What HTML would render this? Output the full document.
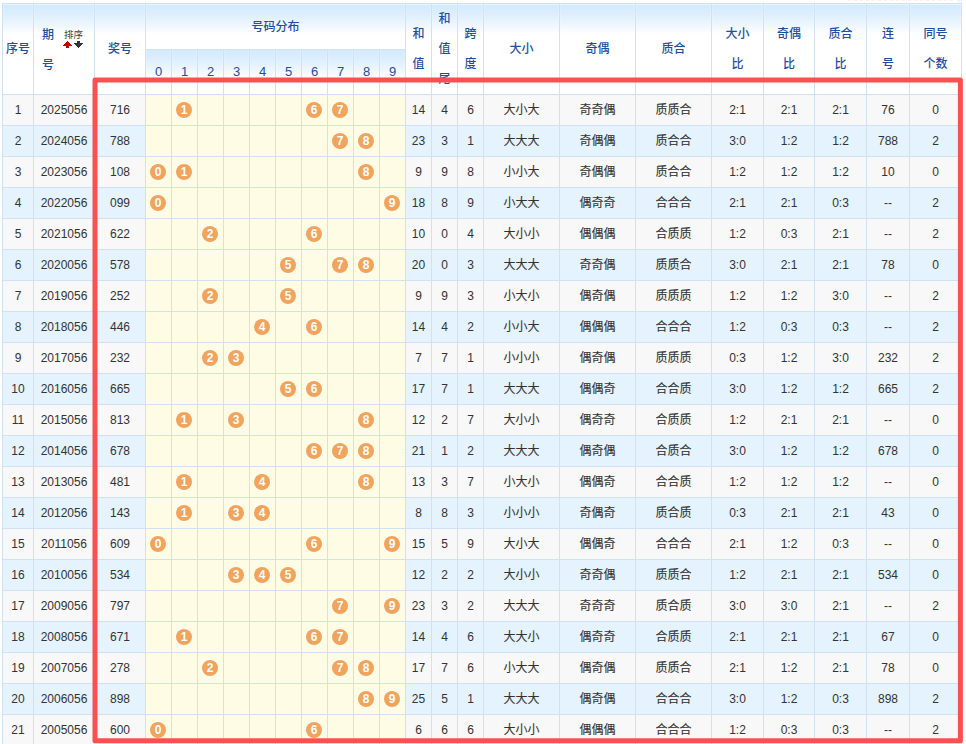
<!DOCTYPE html>
<html lang="zh-CN"><head><meta charset="utf-8"><title>3D 历史同期</title>
<style>
html,body{margin:0;padding:0;background:#fff;}
body{width:966px;height:744px;overflow:hidden;position:relative;font-family:"Liberation Sans","Noto Sans CJK SC",sans-serif;font-size:12px;color:#333;}
.tb{position:absolute;left:2px;top:3px;border-collapse:collapse;table-layout:auto;width:960px;}
.tb th,.tb td{border:1px solid #d0e1f3;padding:0;text-align:center;vertical-align:middle;overflow:visible;white-space:nowrap;}
.tb th{font-weight:500;color:#1e4fa4;line-height:30px;background:#fff linear-gradient(#e8f4fe 0,#e8f4fe 1px,#d3eafd 1px,#d9edfd 8px,#ecf6fe 20px,#ffffff 30px) no-repeat;background-size:100% 30px;}
.tb tr.h1 th{height:45px;}
.tb tr.h2 th{height:43px;font-weight:normal;font-size:13px;line-height:16px;padding-bottom:1px;}
.tb td{height:30px;line-height:30px;}
.tb tr.o td{background:#f8f8f8;}
.tb tr.e td{background:#e4f3fe;}
.tb tr td.d{background:#fffce6;vertical-align:top;}
.tb td.d i{display:block;width:16px;height:16px;margin:7px 0 0 4px;border-radius:50%;background:#f2a35c;color:#fff;font-style:normal;font-weight:bold;font-size:12px;line-height:16px;}
.q{position:absolute;font-weight:500;color:#1e4fa4;line-height:16px;font-size:12px;font-family:"Liberation Sans","Noto Sans CJK SC",sans-serif;}
.q1{left:42px;top:27px;}
.q2{left:42px;top:57px;}
.px{position:absolute;left:64px;top:29px;font-size:9.5px;color:#444;line-height:12px;font-family:"Liberation Sans","Noto Sans CJK SC",sans-serif;}
.arr{position:absolute;left:60px;top:40px;}
.red{position:absolute;left:0;top:0;}
.topline{position:absolute;left:848px;top:0;width:108px;height:1px;background:repeating-linear-gradient(90deg,#fdf0ec 0,#fdf0ec 3px,#fff 3px,#fff 6px);}
.topbox{position:absolute;left:957px;top:0;width:5px;height:3px;background:linear-gradient(#eef4fc,#f8fbfe);}
.tb td.c{-webkit-text-stroke:0.1px #333;}
.tb tr.h2 th{background:#fff linear-gradient(#d4eafd 0,#d9edfd 7px,#ecf6fe 19px,#ffffff 29px) no-repeat;background-size:100% 30px;}
.tb th{box-shadow:inset 1px 0 0 rgba(255,255,255,.15),inset -1px 0 0 rgba(255,255,255,.15);}
.tb td.d i{box-shadow:0 0 0 1px rgba(255,255,255,.55);}

</style></head><body>
<div class="topline"></div><div class="topbox"></div>
<table class="tb">
<colgroup><col style="width:31px"><col style="width:61px"><col style="width:51px"><col style="width:26px"><col style="width:26px"><col style="width:26px"><col style="width:26px"><col style="width:26px"><col style="width:26px"><col style="width:26px"><col style="width:26px"><col style="width:26px"><col style="width:26px"><col style="width:26px"><col style="width:26px"><col style="width:26px"><col style="width:76px"><col style="width:76px"><col style="width:76px"><col style="width:52px"><col style="width:51px"><col style="width:52px"><col style="width:43px"><col></colgroup>
<thead>
<tr class="h1"><th rowspan="2">序号</th><th rowspan="2" class="qh"></th><th rowspan="2">奖号</th><th colspan="10" class="hm">号码分布</th><th rowspan="2">和<br>值</th><th rowspan="2" class="t3">和<br>值<br>尾</th><th rowspan="2">跨<br>度</th><th rowspan="2">大小</th><th rowspan="2">奇偶</th><th rowspan="2">质合</th><th rowspan="2">大小<br>比</th><th rowspan="2">奇偶<br>比</th><th rowspan="2">质合<br>比</th><th rowspan="2">连<br>号</th><th rowspan="2">同号<br>个数</th></tr>
<tr class="h2"><th>0</th><th>1</th><th>2</th><th>3</th><th>4</th><th>5</th><th>6</th><th>7</th><th>8</th><th>9</th></tr>
</thead>
<tbody>
<tr class="o"><td>1</td><td>2025056</td><td>716</td><td class="d"></td><td class="d"><i>1</i></td><td class="d"></td><td class="d"></td><td class="d"></td><td class="d"></td><td class="d"><i>6</i></td><td class="d"><i>7</i></td><td class="d"></td><td class="d"></td><td>14</td><td>4</td><td>6</td><td class="c">大小大</td><td class="c">奇奇偶</td><td class="c">质质合</td><td>2:1</td><td>2:1</td><td>2:1</td><td>76</td><td>0</td></tr>
<tr class="e"><td>2</td><td>2024056</td><td>788</td><td class="d"></td><td class="d"></td><td class="d"></td><td class="d"></td><td class="d"></td><td class="d"></td><td class="d"></td><td class="d"><i>7</i></td><td class="d"><i>8</i></td><td class="d"></td><td>23</td><td>3</td><td>1</td><td class="c">大大大</td><td class="c">奇偶偶</td><td class="c">质合合</td><td>3:0</td><td>1:2</td><td>1:2</td><td>788</td><td>2</td></tr>
<tr class="o"><td>3</td><td>2023056</td><td>108</td><td class="d"><i>0</i></td><td class="d"><i>1</i></td><td class="d"></td><td class="d"></td><td class="d"></td><td class="d"></td><td class="d"></td><td class="d"></td><td class="d"><i>8</i></td><td class="d"></td><td>9</td><td>9</td><td>8</td><td class="c">小小大</td><td class="c">奇偶偶</td><td class="c">质合合</td><td>1:2</td><td>1:2</td><td>1:2</td><td>10</td><td>0</td></tr>
<tr class="e"><td>4</td><td>2022056</td><td>099</td><td class="d"><i>0</i></td><td class="d"></td><td class="d"></td><td class="d"></td><td class="d"></td><td class="d"></td><td class="d"></td><td class="d"></td><td class="d"></td><td class="d"><i>9</i></td><td>18</td><td>8</td><td>9</td><td class="c">小大大</td><td class="c">偶奇奇</td><td class="c">合合合</td><td>2:1</td><td>2:1</td><td>0:3</td><td>--</td><td>2</td></tr>
<tr class="o"><td>5</td><td>2021056</td><td>622</td><td class="d"></td><td class="d"></td><td class="d"><i>2</i></td><td class="d"></td><td class="d"></td><td class="d"></td><td class="d"><i>6</i></td><td class="d"></td><td class="d"></td><td class="d"></td><td>10</td><td>0</td><td>4</td><td class="c">大小小</td><td class="c">偶偶偶</td><td class="c">合质质</td><td>1:2</td><td>0:3</td><td>2:1</td><td>--</td><td>2</td></tr>
<tr class="e"><td>6</td><td>2020056</td><td>578</td><td class="d"></td><td class="d"></td><td class="d"></td><td class="d"></td><td class="d"></td><td class="d"><i>5</i></td><td class="d"></td><td class="d"><i>7</i></td><td class="d"><i>8</i></td><td class="d"></td><td>20</td><td>0</td><td>3</td><td class="c">大大大</td><td class="c">奇奇偶</td><td class="c">质质合</td><td>3:0</td><td>2:1</td><td>2:1</td><td>78</td><td>0</td></tr>
<tr class="o"><td>7</td><td>2019056</td><td>252</td><td class="d"></td><td class="d"></td><td class="d"><i>2</i></td><td class="d"></td><td class="d"></td><td class="d"><i>5</i></td><td class="d"></td><td class="d"></td><td class="d"></td><td class="d"></td><td>9</td><td>9</td><td>3</td><td class="c">小大小</td><td class="c">偶奇偶</td><td class="c">质质质</td><td>1:2</td><td>1:2</td><td>3:0</td><td>--</td><td>2</td></tr>
<tr class="e"><td>8</td><td>2018056</td><td>446</td><td class="d"></td><td class="d"></td><td class="d"></td><td class="d"></td><td class="d"><i>4</i></td><td class="d"></td><td class="d"><i>6</i></td><td class="d"></td><td class="d"></td><td class="d"></td><td>14</td><td>4</td><td>2</td><td class="c">小小大</td><td class="c">偶偶偶</td><td class="c">合合合</td><td>1:2</td><td>0:3</td><td>0:3</td><td>--</td><td>2</td></tr>
<tr class="o"><td>9</td><td>2017056</td><td>232</td><td class="d"></td><td class="d"></td><td class="d"><i>2</i></td><td class="d"><i>3</i></td><td class="d"></td><td class="d"></td><td class="d"></td><td class="d"></td><td class="d"></td><td class="d"></td><td>7</td><td>7</td><td>1</td><td class="c">小小小</td><td class="c">偶奇偶</td><td class="c">质质质</td><td>0:3</td><td>1:2</td><td>3:0</td><td>232</td><td>2</td></tr>
<tr class="e"><td>10</td><td>2016056</td><td>665</td><td class="d"></td><td class="d"></td><td class="d"></td><td class="d"></td><td class="d"></td><td class="d"><i>5</i></td><td class="d"><i>6</i></td><td class="d"></td><td class="d"></td><td class="d"></td><td>17</td><td>7</td><td>1</td><td class="c">大大大</td><td class="c">偶偶奇</td><td class="c">合合质</td><td>3:0</td><td>1:2</td><td>1:2</td><td>665</td><td>2</td></tr>
<tr class="o"><td>11</td><td>2015056</td><td>813</td><td class="d"></td><td class="d"><i>1</i></td><td class="d"></td><td class="d"><i>3</i></td><td class="d"></td><td class="d"></td><td class="d"></td><td class="d"></td><td class="d"><i>8</i></td><td class="d"></td><td>12</td><td>2</td><td>7</td><td class="c">大小小</td><td class="c">偶奇奇</td><td class="c">合质质</td><td>1:2</td><td>2:1</td><td>2:1</td><td>--</td><td>0</td></tr>
<tr class="e"><td>12</td><td>2014056</td><td>678</td><td class="d"></td><td class="d"></td><td class="d"></td><td class="d"></td><td class="d"></td><td class="d"></td><td class="d"><i>6</i></td><td class="d"><i>7</i></td><td class="d"><i>8</i></td><td class="d"></td><td>21</td><td>1</td><td>2</td><td class="c">大大大</td><td class="c">偶奇偶</td><td class="c">合质合</td><td>3:0</td><td>1:2</td><td>1:2</td><td>678</td><td>0</td></tr>
<tr class="o"><td>13</td><td>2013056</td><td>481</td><td class="d"></td><td class="d"><i>1</i></td><td class="d"></td><td class="d"></td><td class="d"><i>4</i></td><td class="d"></td><td class="d"></td><td class="d"></td><td class="d"><i>8</i></td><td class="d"></td><td>13</td><td>3</td><td>7</td><td class="c">小大小</td><td class="c">偶偶奇</td><td class="c">合合质</td><td>1:2</td><td>1:2</td><td>1:2</td><td>--</td><td>0</td></tr>
<tr class="e"><td>14</td><td>2012056</td><td>143</td><td class="d"></td><td class="d"><i>1</i></td><td class="d"></td><td class="d"><i>3</i></td><td class="d"><i>4</i></td><td class="d"></td><td class="d"></td><td class="d"></td><td class="d"></td><td class="d"></td><td>8</td><td>8</td><td>3</td><td class="c">小小小</td><td class="c">奇偶奇</td><td class="c">质合质</td><td>0:3</td><td>2:1</td><td>2:1</td><td>43</td><td>0</td></tr>
<tr class="o"><td>15</td><td>2011056</td><td>609</td><td class="d"><i>0</i></td><td class="d"></td><td class="d"></td><td class="d"></td><td class="d"></td><td class="d"></td><td class="d"><i>6</i></td><td class="d"></td><td class="d"></td><td class="d"><i>9</i></td><td>15</td><td>5</td><td>9</td><td class="c">大小大</td><td class="c">偶偶奇</td><td class="c">合合合</td><td>2:1</td><td>1:2</td><td>0:3</td><td>--</td><td>0</td></tr>
<tr class="e"><td>16</td><td>2010056</td><td>534</td><td class="d"></td><td class="d"></td><td class="d"></td><td class="d"><i>3</i></td><td class="d"><i>4</i></td><td class="d"><i>5</i></td><td class="d"></td><td class="d"></td><td class="d"></td><td class="d"></td><td>12</td><td>2</td><td>2</td><td class="c">大小小</td><td class="c">奇奇偶</td><td class="c">质质合</td><td>1:2</td><td>2:1</td><td>2:1</td><td>534</td><td>0</td></tr>
<tr class="o"><td>17</td><td>2009056</td><td>797</td><td class="d"></td><td class="d"></td><td class="d"></td><td class="d"></td><td class="d"></td><td class="d"></td><td class="d"></td><td class="d"><i>7</i></td><td class="d"></td><td class="d"><i>9</i></td><td>23</td><td>3</td><td>2</td><td class="c">大大大</td><td class="c">奇奇奇</td><td class="c">质合质</td><td>3:0</td><td>3:0</td><td>2:1</td><td>--</td><td>2</td></tr>
<tr class="e"><td>18</td><td>2008056</td><td>671</td><td class="d"></td><td class="d"><i>1</i></td><td class="d"></td><td class="d"></td><td class="d"></td><td class="d"></td><td class="d"><i>6</i></td><td class="d"><i>7</i></td><td class="d"></td><td class="d"></td><td>14</td><td>4</td><td>6</td><td class="c">大大小</td><td class="c">偶奇奇</td><td class="c">合质质</td><td>2:1</td><td>2:1</td><td>2:1</td><td>67</td><td>0</td></tr>
<tr class="o"><td>19</td><td>2007056</td><td>278</td><td class="d"></td><td class="d"></td><td class="d"><i>2</i></td><td class="d"></td><td class="d"></td><td class="d"></td><td class="d"></td><td class="d"><i>7</i></td><td class="d"><i>8</i></td><td class="d"></td><td>17</td><td>7</td><td>6</td><td class="c">小大大</td><td class="c">偶奇偶</td><td class="c">质质合</td><td>2:1</td><td>1:2</td><td>2:1</td><td>78</td><td>0</td></tr>
<tr class="e"><td>20</td><td>2006056</td><td>898</td><td class="d"></td><td class="d"></td><td class="d"></td><td class="d"></td><td class="d"></td><td class="d"></td><td class="d"></td><td class="d"></td><td class="d"><i>8</i></td><td class="d"><i>9</i></td><td>25</td><td>5</td><td>1</td><td class="c">大大大</td><td class="c">偶奇偶</td><td class="c">合合合</td><td>3:0</td><td>1:2</td><td>0:3</td><td>898</td><td>2</td></tr>
<tr class="o"><td>21</td><td>2005056</td><td>600</td><td class="d"><i>0</i></td><td class="d"></td><td class="d"></td><td class="d"></td><td class="d"></td><td class="d"></td><td class="d"><i>6</i></td><td class="d"></td><td class="d"></td><td class="d"></td><td>6</td><td>6</td><td>6</td><td class="c">大小小</td><td class="c">偶偶偶</td><td class="c">合合合</td><td>1:2</td><td>0:3</td><td>0:3</td><td>--</td><td>2</td></tr>
</tbody>
</table>
<div class="q q1">期</div><div class="q q2">号</div><div class="px">排序</div><svg class="arr" width="24" height="10" viewBox="60 40 24 10"><path d="M67 41h1v1h1v1h1v1h1v1h1v1h-3v2h-3v-2h-3v-1h1v-1h1v-1h1v-1h1z" fill="#c00000"/><path d="M77 41h3v2h3v1h-1v1h-1v1h-1v1h-1v1h-1v-1h-1v-1h-1v-1h-1v-1h-1v-1h3z" fill="#333"/></svg>
<svg class="red" width="966" height="744" viewBox="0 0 966 744"><rect x="95" y="80" width="865.4" height="660.8" fill="none" stroke="#fa5050" stroke-width="5" stroke-linejoin="round"/></svg>
</body></html>
